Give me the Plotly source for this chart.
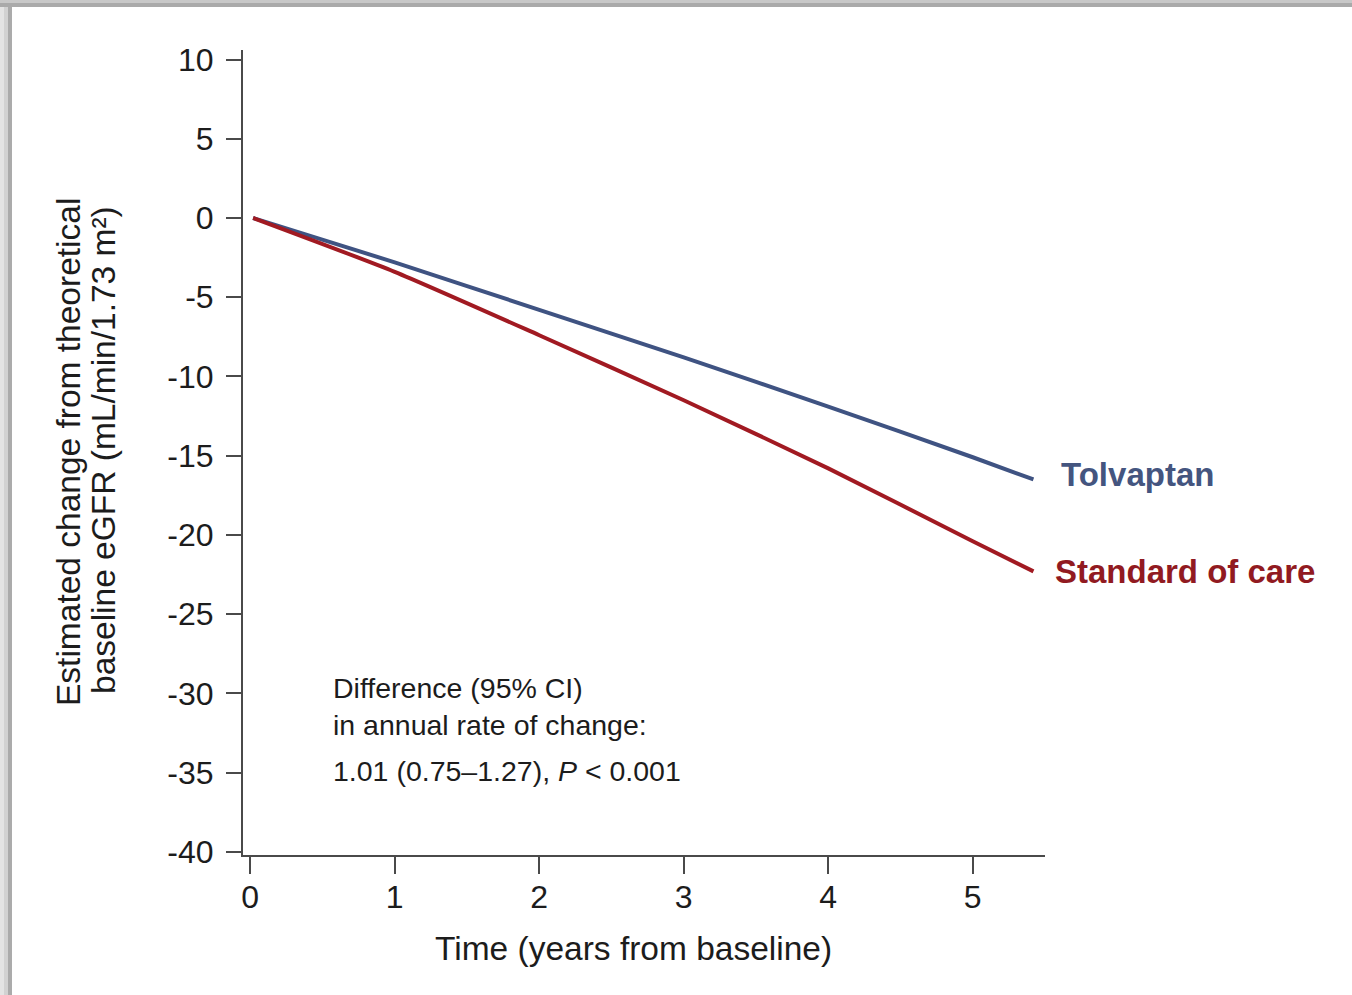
import plotly.graph_objects as go

# ---- data ----
years = [0.02, 1, 2, 3, 4, 5, 5.42]
tolvaptan = [0, -2.8, -5.8, -8.8, -11.9, -15.1, -16.5]
standard_of_care = [0, -3.4, -7.4, -11.5, -15.8, -20.4, -22.3]
series_names = ["Tolvaptan", "Standard of care"]
x_ticks = [0, 1, 2, 3, 4, 5]
y_ticks = [10, 5, 0, -5, -10, -15, -20, -25, -30, -35, -40]

# ---- styles ----
FONT = "Liberation Sans, Arial, sans-serif"
BLUE = "#3f5382"
RED = "#a11a22"
BLUE_TXT = "#44557f"
RED_TXT = "#911a21"
TXT = "#1c1c1c"

W, H = 1352, 995
L, R, T, B = 243, 1045, 50, 855


def xp(px):
    return (px - L) / (R - L)


def yp(py):
    return (B - py) / (B - T)


fig = go.Figure()
fig.add_trace(go.Scatter(x=years, y=tolvaptan, mode="lines", name=series_names[0],
                         line=dict(color=BLUE, width=4, shape="spline", smoothing=0.6),
                         showlegend=False))
fig.add_trace(go.Scatter(x=years, y=standard_of_care, mode="lines", name=series_names[1],
                         line=dict(color=RED, width=4, shape="spline", smoothing=0.6),
                         showlegend=False))

fig.update_layout(
    width=W, height=H,
    margin=dict(l=L, r=W - R, t=T, b=H - B, pad=0),
    paper_bgcolor="white", plot_bgcolor="white",
    font=dict(family=FONT, color=TXT),
    xaxis=dict(range=[-0.05, 5.5], tickvals=x_ticks, ticktext=[str(v) for v in x_ticks],
               showgrid=False, zeroline=False, showline=True, linecolor="#4a4a4a", linewidth=2,
               ticks="outside", ticklen=17, tickwidth=2, tickcolor="#4a4a4a",
               tickfont=dict(size=32, color=TXT), ticklabelstandoff=-4),
    yaxis=dict(range=[-40.2, 10.6], tickvals=y_ticks, ticktext=[str(v) for v in y_ticks],
               showgrid=False, zeroline=False, showline=True, linecolor="#4a4a4a", linewidth=2,
               ticks="outside", ticklen=15, tickwidth=2, tickcolor="#4a4a4a",
               tickfont=dict(size=32, color=TXT), ticklabelstandoff=6),
)

ann = []
# axis titles
ann.append(dict(text="Time (years from baseline)", xref="paper", yref="paper",
                x=xp(633), y=yp(948), xanchor="center", yanchor="middle", showarrow=False,
                font=dict(size=33.5, color=TXT)))
ann.append(dict(text="Estimated change from theoretical", xref="paper", yref="paper",
                x=xp(68), y=yp(452), xanchor="center", yanchor="middle", showarrow=False,
                textangle=-90, font=dict(size=33.5, color=TXT)))
ann.append(dict(text="baseline eGFR (mL/min/1.73 m²)", xref="paper", yref="paper",
                x=xp(103), y=yp(450), xanchor="center", yanchor="middle", showarrow=False,
                textangle=-90, font=dict(size=33.5, color=TXT)))
# series labels at line ends
ann.append(dict(text="<b>Tolvaptan</b>", x=years[-1], y=tolvaptan[-1], xref="x", yref="y",
                xanchor="left", yanchor="middle", xshift=26, yshift=5, showarrow=False,
                font=dict(size=33, color=BLUE_TXT)))
ann.append(dict(text="<b>Standard of care</b>", x=years[-1], y=standard_of_care[-1], xref="x", yref="y",
                xanchor="left", yanchor="middle", xshift=20, yshift=0, showarrow=False,
                font=dict(size=33, color=RED_TXT)))
# statistics text
for txt, py in [("Difference (95% CI)", 688),
                ("in annual rate of change:", 725),
                ("1.01 (0.75–1.27), <i>P</i> < 0.001", 771)]:
    ann.append(dict(text=txt, xref="paper", yref="paper", x=xp(331), y=yp(py),
                    xanchor="left", yanchor="middle", showarrow=False,
                    font=dict(size=28.5, color=TXT)))
fig.update_layout(annotations=ann)

# decorative frame (grey bands at top and left edge)
shapes = []
for x0, x1, c in [(0, 4, "#e4e4e4"), (4, 8, "#d2d2d2"), (8, 12, "#ababab")]:
    shapes.append(dict(type="rect", xref="paper", yref="paper", x0=xp(x0), x1=xp(x1),
                       y0=yp(H), y1=yp(0), fillcolor=c, line=dict(width=0), layer="below"))
for y0, y1, c in [(0, 3, "#c8c8c8"), (3, 7, "#aaaaaa")]:
    shapes.append(dict(type="rect", xref="paper", yref="paper", x0=xp(0), x1=xp(W),
                       y0=yp(y1), y1=yp(y0), fillcolor=c, line=dict(width=0), layer="below"))
fig.update_layout(shapes=shapes)

fig.write_html("out.html", config={"displayModeBar": False},
               post_script="document.body.style.margin='0';document.body.style.overflow='hidden';")
